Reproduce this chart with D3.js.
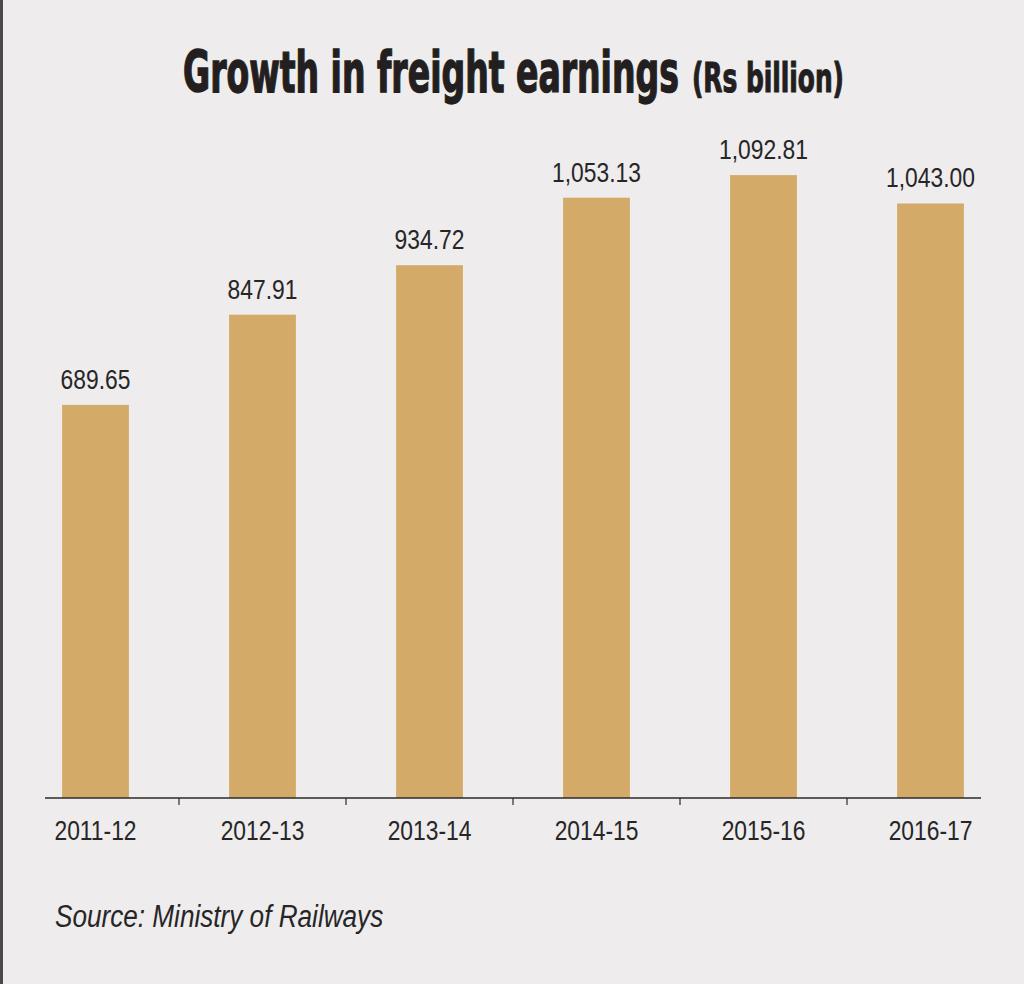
<!DOCTYPE html>
<html>
<head>
<meta charset="utf-8">
<script src="https://cdn.jsdelivr.net/npm/d3@7"></script>
<style>
  html, body { margin: 0; padding: 0; background: #eeeced; }
  svg { display: block; }
</style>
</head>
<body>
<svg width="1024" height="984"></svg>
<script>
(function () {
  var years = ["2011-12", "2012-13", "2013-14", "2014-15", "2015-16", "2016-17"];
  var earnings = [689.65, 847.91, 934.72, 1053.13, 1092.81, 1043.00];
  var labels = ["689.65", "847.91", "934.72", "1,053.13", "1,092.81", "1,043.00"];

  var sans = '"Liberation Sans", Arial, sans-serif';
  var squeeze = ' scale(0.83,1)'; // no narrow font here, so condense Liberation Sans
  var svg = d3.select('svg');

  svg.append('rect')
    .attr('width', 1024).attr('height', 984)
    .attr('fill', '#eeeced');
  // left frame line
  svg.append('rect')
    .attr('x', 0).attr('y', 0)
    .attr('width', 3).attr('height', 984)
    .attr('fill', '#4a4a4a');

  var x = d3.scaleBand()
    .domain(years)
    .range([12, 1014])
    .paddingInner(0.6)
    .paddingOuter(0.3);

  var y = d3.scaleLinear()
    .domain([0, 1400])
    .range([798, 0]);

  // title: squeeze each part to the width it takes in the reference
  function fitText(txt, left, width, size, stroke) {
    var t = svg.append('text')
      .text(txt)
      .attr('font-family', '"DejaVu Sans Condensed", "DejaVu Sans", sans-serif')
      .attr('font-weight', 'bold')
      .attr('font-size', size)
      .attr('fill', '#231f20')
      .attr('stroke', '#231f20')
      .attr('stroke-width', stroke);
    var natural = t.node().getComputedTextLength();
    t.attr('transform', 'translate(' + left + ',92) scale(' + (width / natural) + ',1)');
  }
  fitText('Growth in freight earnings', 183, 496, 56, 1.4);
  fitText('(Rs billion)', 692, 152, 40, 1.1);

  // bars
  svg.selectAll('.bar')
    .data(earnings)
    .enter()
    .append('rect')
    .attr('class', 'bar')
    .attr('x', function(d, i) {return x(years[i]);})
    .attr('y', function(d) {return y(d);})
    .attr('width', x.bandwidth())
    .attr('height', function(d) {return y(0) - y(d);})
    .attr('fill', '#d3aa67');

  // value labels
  svg.selectAll('.value')
    .data(earnings)
    .enter()
    .append('text')
    .attr('class', 'value')
    .text(function(d, i) {return labels[i];})
    .attr('transform', function(d, i) {
      return 'translate(' + (x(years[i]) + x.bandwidth() / 2) + ',' + (y(d) - 16) + ')' + squeeze;
    })
    .attr('text-anchor', 'middle')
    .attr('font-family', sans)
    .attr('font-size', 27.5)
    .attr('fill', '#262626');

  // axis
  var axis = svg.append('g')
    .attr('transform', 'translate(0,' + y(0) + ')');
  axis.append('line')
    .attr('x1', 45).attr('x2', 981)
    .attr('stroke', '#2b2b2b')
    .attr('stroke-width', 1.5);
  axis.selectAll('.tick-mark')
    .data(years.slice(1))
    .enter()
    .append('line')
    .attr('class', 'tick-mark')
    .attr('x1', function(d) {return x(d) - x.step() * x.paddingInner() / 2;})
    .attr('x2', function(d) {return x(d) - x.step() * x.paddingInner() / 2;})
    .attr('y1', 0).attr('y2', 7)
    .attr('stroke', '#2b2b2b')
    .attr('stroke-width', 1.2);
  axis.selectAll('.year')
    .data(years)
    .enter()
    .append('text')
    .attr('class', 'year')
    .text(function(d) {return d;})
    .attr('transform', function(d) {
      return 'translate(' + (x(d) + x.bandwidth() / 2) + ',42)' + squeeze;
    })
    .attr('text-anchor', 'middle')
    .attr('font-family', sans)
    .attr('font-size', 27.5)
    .attr('fill', '#262626');

  svg.append('text')
    .text('Source: Ministry of Railways')
    .attr('transform', 'translate(55,927)' + squeeze)
    .attr('font-family', sans)
    .attr('font-style', 'italic')
    .attr('font-size', 31.5)
    .attr('fill', '#262626');
})();
</script>
</body>
</html>
